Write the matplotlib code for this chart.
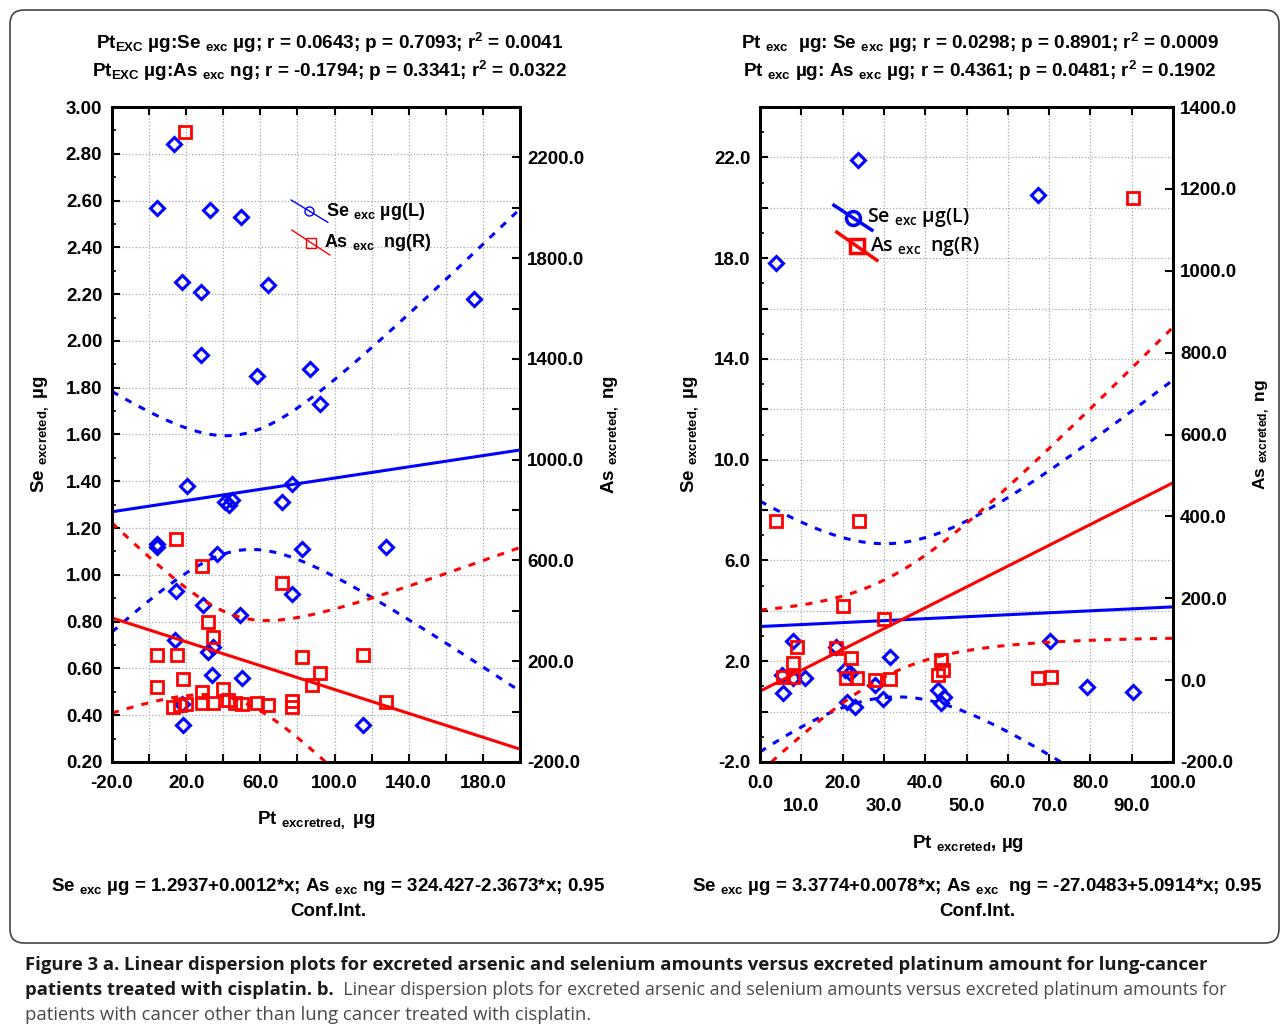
import matplotlib.pyplot as plt
import matplotlib.patches as patches
import matplotlib.ticker as mticker
import numpy as np

plt.rcParams['font.family'] = ['Liberation Sans', 'DejaVu Sans']
plt.rcParams['font.weight'] = 'bold'
plt.rcParams['mathtext.default'] = 'regular'

W, H = 1282, 1035

# panel a: lung-cancer patients
a_se_x = [13.5, 4.3, 33.0, 49.7, 17.8, 28.1, 64.3, 175.0, 28.1, 58.4, 87.0, 91.9,
          20.5, 77.3, 41.1, 43.2, 44.9, 71.9, 4.3, 4.3, 36.8, 82.7, 127.6, 14.6,
          77.3, 29.2, 49.2, 14.1, 31.9, 34.6, 34.0, 50.3, 17.8, 18.4, 115.1]
a_se_y = [2.84, 2.57, 2.56, 2.53, 2.25, 2.21, 2.24, 2.18, 1.94, 1.85, 1.88, 1.73,
          1.38, 1.39, 1.31, 1.30, 1.32, 1.31, 1.13, 1.12, 1.09, 1.11, 1.12, 0.93,
          0.92, 0.87, 0.83, 0.72, 0.67, 0.69, 0.57, 0.56, 0.45, 0.36, 0.36]
a_as_x = [19.5, 14.6, 28.6, 71.9, 31.9, 34.6, 4.3, 15.1, 82.7, 4.3, 18.4, 87.6,
          92.4, 115.1, 127.6, 13.0, 16.8, 20.0, 28.6, 28.6, 34.6, 40.0, 42.7,
          46.5, 50.0, 58.4, 64.3, 77.3, 77.3]
a_as_y = [2300, 685, 578, 510, 356, 296, 225, 225, 217, 98, 129, 106,
          153, 225, 38, 18, 26, 30, 78, 34, 34, 90, 46,
          34, 30, 34, 26, 42, 18]
a_se_coef = [1.2937, 0.0012]
a_as_coef = [324.427, -2.3673]

# panel b: other cancers
b_se_x = [23.7, 3.9, 67.3, 70.2, 79.2, 90.3, 8.0, 18.4, 31.5, 5.6, 8.0, 10.9,
          5.3, 20.6, 21.8, 21.1, 23.0, 27.8, 29.8, 43.1, 44.5, 43.8]
b_se_y = [21.9, 17.8, 20.5, 2.79, 0.97, 0.77, 2.79, 2.55, 2.16, 0.73, 1.33, 1.33,
          1.45, 1.64, 1.52, 0.38, 0.18, 1.05, 0.50, 0.85, 0.57, 0.34]
b_as_x = [90.3, 3.9, 24.0, 20.1, 30.0, 9.0, 18.4, 22.0, 8.0, 5.6, 8.0, 20.8,
          23.5, 27.8, 31.5, 43.1, 43.8, 44.3, 67.3, 70.4]
b_as_y = [1178, 388, 388, 180, 149, 80, 78, 54, 41, 7, 7, 5,
          5, 0, 2, 12, 49, 24, 5, 7]
b_se_coef = [3.3774, 0.0078]
b_as_coef = [-27.0483, 5.0914]

BLUE, RED = '#0000ff', '#ff0000'
TICK = 13.5


def t975(df):
    z = 1.959964
    return z + (z**3 + z) / (4 * df) + (5 * z**5 + 16 * z**3 + 3 * z) / (96 * df**2)


def fit_band(ax, x, y, coef, xlim, color):
    x, y = np.asarray(x, float), np.asarray(y, float)
    n = len(x)
    b0, b1 = coef
    s = np.sqrt(np.sum((y - b0 - b1 * x) ** 2) / (n - 2))
    xs = np.linspace(xlim[0], xlim[1], 300)
    yh = b0 + b1 * xs
    hw = t975(n - 2) * s * np.sqrt(1 / n + (xs - x.mean()) ** 2 / np.sum((x - x.mean()) ** 2))
    ax.plot(xs, yh, color=color, lw=2.2)
    for sgn in (1, -1):
        ax.plot(xs, yh + sgn * hw, color=color, lw=2.2, ls=(0, (2.3, 2.7)))


def style(ax, ax2):
    for a in (ax, ax2):
        for sp in a.spines.values():
            sp.set_linewidth(2)
    ax.tick_params(which='major', direction='in', length=6, width=1.5, labelsize=TICK, top=True, pad=7)
    ax.tick_params(which='minor', direction='in', length=3, width=1.2, top=False)
    ax.tick_params(axis='x', which='major', pad=9)
    ax2.tick_params(which='major', direction='in', length=6, width=1.5, labelsize=TICK, pad=5)
    ax.grid(True, which='major', ls=':', color='#a8a8a8', lw=0.9)
    ax.set_axisbelow(True)


def legend(ax, items, lw, ms, fam, size, weight):
    for (x0, y0, x1, y1, mk, mks, c, lab, tx) in items:
        ax.plot([x0, x1], [y0, y1], color=c, lw=lw, transform=ax.transAxes, clip_on=False)
        ax.plot([(x0 + x1) / 2], [(y0 + y1) / 2], marker=mk, ms=ms * mks, mfc='none', mec=c, mew=lw,
                transform=ax.transAxes, clip_on=False)
        ax.text(tx, (y0 + y1) / 2, lab, transform=ax.transAxes, ha='left', va='center',
                fontsize=size, family=fam, fontweight=weight)


fig = plt.figure(figsize=(W / 100, H / 100), dpi=100)

# ---------- panel a ----------
axa = fig.add_axes([112 / W, 1 - 762 / H, 408 / W, 655 / H])
axa2 = axa.twinx()
axa.set_xlim(-20, 200)
axa.set_ylim(0.2, 3.0)
axa2.set_ylim(-200, 2400)
axa.xaxis.set_major_locator(mticker.MultipleLocator(20))
axa.xaxis.set_major_formatter(mticker.FuncFormatter(
    lambda v, p: f"{v:.1f}" if round(v + 20) % 40 == 0 else ""))
axa.yaxis.set_major_locator(mticker.MultipleLocator(0.2))
axa.yaxis.set_minor_locator(mticker.MultipleLocator(0.1))
axa.yaxis.set_major_formatter(mticker.FormatStrFormatter("%.2f"))
axa2.yaxis.set_major_locator(mticker.MultipleLocator(200))
axa2.yaxis.set_major_formatter(mticker.FuncFormatter(
    lambda v, p: f"{v:.1f}" if round(v + 200) % 400 == 0 else ""))
style(axa, axa2)

fit_band(axa, a_se_x, a_se_y, a_se_coef, (-20, 200), BLUE)
axa.plot(a_se_x, a_se_y, ls='none', marker='D', ms=7.5, mfc='none', mec=BLUE, mew=2.2)
fit_band(axa2, a_as_x, a_as_y, a_as_coef, (-20, 200), RED)
axa2.plot(a_as_x, a_as_y, ls='none', marker='s', ms=9, mfc='none', mec=RED, mew=2)

legend(axa, [(0.439, 0.858, 0.529, 0.824, 'o', 1.0, BLUE, "Se $_{exc}$ µg(L)", 0.525),
             (0.441, 0.812, 0.534, 0.774, 's', 1.2, RED, "As $_{exc}$  ng(R)", 0.520)],
       1.0, 6.5, ['Liberation Sans', 'DejaVu Sans'], 13, 'bold')

axa.text(-0.176, 0.5, "Se $_{excreted,}$ µg", transform=axa.transAxes, rotation=90,
         ha='center', va='center', fontsize=13.5)
axa.text(1.22, 0.5, "As $_{excreted,}$ ng", transform=axa.transAxes, rotation=90,
         ha='center', va='center', fontsize=13.5)
axa.text(0.5, -0.088, "Pt $_{excretred,}$ µg", transform=axa.transAxes,
         ha='center', va='center', fontsize=13.5)

# ---------- panel b ----------
axb = fig.add_axes([760 / W, 1 - 762 / H, 413 / W, 655 / H])
axb2 = axb.twinx()
axb.set_xlim(0, 100)
axb.set_ylim(-2, 24)
axb2.set_ylim(-200, 1400)
axb.xaxis.set_major_locator(mticker.MultipleLocator(20))
axb.xaxis.set_minor_locator(mticker.FixedLocator([10, 30, 50, 70, 90]))
axb.xaxis.set_major_formatter(mticker.FormatStrFormatter("%.1f"))
axb.xaxis.set_minor_formatter(mticker.FormatStrFormatter("%.1f"))
axb.yaxis.set_major_locator(mticker.MultipleLocator(2))
axb.yaxis.set_minor_locator(mticker.MultipleLocator(1))
axb.yaxis.set_major_formatter(mticker.FuncFormatter(
    lambda v, p: f"{v:.1f}" if round(v + 2) % 4 == 0 else ""))
axb2.yaxis.set_major_locator(mticker.MultipleLocator(200))
axb2.yaxis.set_major_formatter(mticker.FormatStrFormatter("%.1f"))
style(axb, axb2)
axb.tick_params(axis='x', which='minor', length=6, width=1.5, labelsize=TICK, pad=26, top=True)
axb.grid(True, axis='x', which='minor', ls=':', color='#a8a8a8', lw=0.9)

fit_band(axb, b_se_x, b_se_y, b_se_coef, (0, 100), BLUE)
axb.plot(b_se_x, b_se_y, ls='none', marker='D', ms=7.5, mfc='none', mec=BLUE, mew=2.2)
fit_band(axb2, b_as_x, b_as_y, b_as_coef, (0, 100), RED)
axb2.plot(b_as_x, b_as_y, ls='none', marker='s', ms=9, mfc='none', mec=RED, mew=2)

legend(axb, [(0.179, 0.850, 0.271, 0.812, 'o', 1.0, BLUE, "Se $_{exc}$ µg(L)", 0.259),
             (0.186, 0.809, 0.283, 0.766, 's', 1.0, RED, "As $_{exc}$  ng(R)", 0.266)],
       2.5, 10, ['Open Sans', 'DejaVu Sans'], 14, 'semibold')

axb.text(-0.169, 0.5, "Se $_{excreted,}$ µg", transform=axb.transAxes, rotation=90,
         ha='center', va='center', fontsize=13.5)
axb.text(1.215, 0.5, "As $_{excreted,}$ ng", transform=axb.transAxes, rotation=90,
         ha='center', va='center', fontsize=12.5)
axb.text(0.504, -0.124, "Pt $_{excreted}$, µg", transform=axb.transAxes,
         ha='center', va='center', fontsize=13.5)

# ---------- titles and equations ----------
fig.text(330 / W, 1 - 43 / H, "Pt$_{EXC}$ µg:Se $_{exc}$ µg; r = 0.0643; p = 0.7093; r$^2$ = 0.0041",
         ha='center', va='center', fontsize=13.6)
fig.text(330 / W, 1 - 71 / H, "Pt$_{EXC}$ µg:As $_{exc}$ ng; r = -0.1794; p = 0.3341; r$^2$ = 0.0322",
         ha='center', va='center', fontsize=13.6)
fig.text(980 / W, 1 - 43 / H, "Pt $_{exc}$  µg: Se $_{exc}$ µg; r = 0.0298; p = 0.8901; r$^2$ = 0.0009",
         ha='center', va='center', fontsize=13.6)
fig.text(980 / W, 1 - 71 / H, "Pt $_{exc}$ µg: As $_{exc}$ µg; r = 0.4361; p = 0.0481; r$^2$ = 0.1902",
         ha='center', va='center', fontsize=13.6)

fig.text(328 / W, 1 - 898 / H,
         "Se $_{exc}$ µg = 1.2937+0.0012*x; As $_{exc}$ ng = 324.427-2.3673*x; 0.95\nConf.Int.",
         ha='center', va='center', multialignment='center', fontsize=13.5, linespacing=1.45)
fig.text(977 / W, 1 - 898 / H,
         "Se $_{exc}$ µg = 3.3774+0.0078*x; As $_{exc}$  ng = -27.0483+5.0914*x; 0.95\nConf.Int.",
         ha='center', va='center', multialignment='center', fontsize=13.5, linespacing=1.45)

# ---------- frame and caption ----------
over = fig.add_axes([0, 0, 1, 1])
over.axis('off')
over.set_xlim(0, W)
over.set_ylim(H, 0)
over.add_patch(patches.FancyBboxPatch((10, 10), 1269, 933, boxstyle="round,pad=0,rounding_size=14",
                                      fill=False, ec='#444444', lw=1.2, clip_on=False))
CAP = 13.3
cap = dict(family=['Open Sans', 'DejaVu Sans'], fontsize=CAP, va='center', ha='left')
over.text(25, 965, "Figure 3 a. Linear dispersion plots for excreted arsenic and selenium amounts "
          "versus excreted platinum amount for lung-cancer", fontweight='bold', color='#1a1a1a', **cap)
t1 = over.text(25, 990, "patients treated with cisplatin. b.", fontweight='bold', color='#1a1a1a', **cap)
over.annotate("  Linear dispersion plots for excreted arsenic and selenium amounts versus excreted "
              "platinum amounts for", xy=(1, 0), xycoords=t1, va='bottom', ha='left',
              family=['Open Sans', 'DejaVu Sans'], fontsize=CAP - 0.3, fontweight='normal', color='#4a4a4a')
over.text(25, 1015, "patients with cancer other than lung cancer treated with cisplatin.",
          fontweight='normal', color='#4a4a4a', **cap)

fig.savefig("out.png", dpi=100)
